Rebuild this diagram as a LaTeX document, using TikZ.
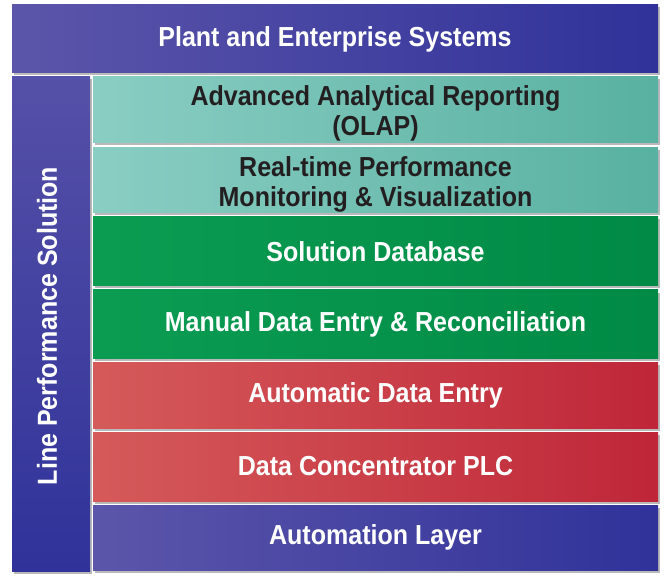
\documentclass[tikz,border=0pt]{standalone}
\usepackage{fontspec}
\setmainfont{Liberation Sans}[FakeStretch=0.91]
\usetikzlibrary{shadows}

\definecolor{blueL}{HTML}{5C56AA}
\definecolor{blueR}{HTML}{30329A}
\definecolor{tealL}{HTML}{8ACDC3}
\definecolor{tealR}{HTML}{58B1A1}
\definecolor{greenL}{HTML}{0B9C52}
\definecolor{greenR}{HTML}{008A45}
\definecolor{redL}{HTML}{D55A5A}
\definecolor{redR}{HTML}{BF2638}
\definecolor{inktext}{HTML}{231F20}

\tikzset{
  layer/.style={rectangle, inner sep=0pt, align=center,
    font=\bfseries\fontsize{27.5}{30}\selectfont,
    drop shadow={shadow xshift=1.5pt, shadow yshift=-2.5pt, opacity=0.55}},
  bluelayer/.style={layer, left color=blueL, right color=blueR, text=white},
  tealayer/.style={layer, left color=tealL, right color=tealR},
  tealtext/.style={align=center, text=inktext, font=\bfseries\fontsize{27.5}{30}\selectfont},
  greenlayer/.style={layer, left color=greenL, right color=greenR, text=white},
  redlayer/.style={layer, left color=redL, right color=redR, text=white},
  wide/.style={minimum width=565pt}
}

\begin{document}
\begin{tikzpicture}[x=1pt,y=-1pt]
\useasboundingbox (0,0) rectangle (669,577);

% frame
\node[bluelayer, minimum width=646pt, minimum height=68pt] (plant) at (335,39) {Plant and Enterprise Systems};
\node[layer, top color=blueL!85!blueR, bottom color=blueR, minimum width=78pt, minimum height=494pt] (line) at (51,324) {};
\node[text=white, font=\bfseries\fontsize{27.5}{30}\selectfont, rotate=90] (linetext) at (47,326) {Line Performance Solution};

% layers
\node[tealayer, wide, minimum height=66pt] (olap) at (375.5,110) {};
\node[tealtext] (olaptext) at ([yshift=-3.5pt]olap.center) {Advanced Analytical Reporting\\(OLAP)};
\node[tealayer, wide, minimum height=65pt] (monitor) at (375.5,180.5) {};
\node[tealtext] (monitortext) at ([yshift=-3.5pt]monitor.center) {Real-time Performance\\Monitoring \& Visualization};
\node[greenlayer, wide, minimum height=69pt] (soldb) at (375.5,251.5) {Solution Database};
\node[greenlayer, wide, minimum height=68pt] (manual) at (375.5,324) {Manual Data Entry \& Reconciliation};
\node[redlayer, wide, minimum height=66pt] (autoentry) at (375.5,395) {Automatic Data Entry};
\node[redlayer, wide, minimum height=69pt] (plc) at (375.5,466.5) {Data Concentrator PLC};
\node[bluelayer, wide, minimum height=65pt] (automation) at (375.5,537.5) {Automation Layer};

\end{tikzpicture}
\end{document}
